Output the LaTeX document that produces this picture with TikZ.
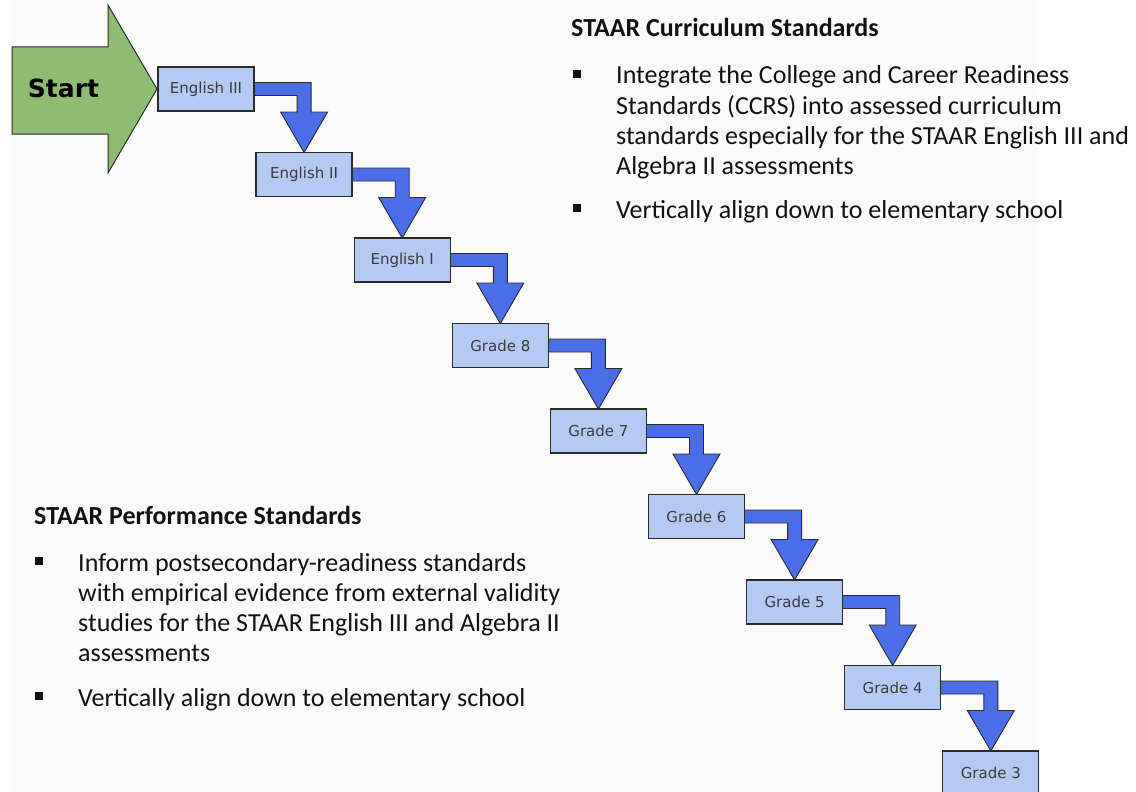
\documentclass[tikz,border=0pt]{standalone}
\usepackage{fontspec}
\setmainfont{Carlito}
\newfontfamily\boxfont{DejaVu Sans}
\usetikzlibrary{calc}
\definecolor{bgpanel}{HTML}{FAFAFA}
\definecolor{boxfill}{HTML}{B4CAF3}
\definecolor{arrowblue}{HTML}{4A6EE8}
\definecolor{startgreen}{HTML}{8EBC73}
\definecolor{edgecol}{HTML}{2B2B2B}
\definecolor{labeltext}{HTML}{3A3A3A}
\definecolor{bodycol}{HTML}{111111}
\pgfdeclarelayer{back}
\pgfsetlayers{back,main}
\begin{document}
\begin{tikzpicture}[x=1pt,y=-1pt,
  gradebox/.style={draw=edgecol, line width=1.3pt, fill=boxfill, minimum width=96pt, minimum height=44pt,
    inner sep=0pt, outer sep=0pt, font=\boxfont\fontsize{15}{18}\selectfont, text=labeltext},
  conn/.style={draw=edgecol, line width=0.9pt, fill=arrowblue, line join=miter},
  startarrow/.style={draw=edgecol, line width=1pt, fill=startgreen, line join=miter},
  bodytext/.style={anchor=base west, inner sep=0pt, text=bodycol, font=\fontsize{26}{30}\selectfont},
  headtext/.style={anchor=base west, inner sep=0pt, text=bodycol, font=\bfseries\fontsize{26}{30}\selectfont},
  bulletsq/.style={fill=bodycol, minimum size=8pt, inner sep=0pt}]
\useasboundingbox (0,0) rectangle (1136,792);
\begin{pgfonlayer}{back}
\fill[bgpanel] (11,0) rectangle (1038,792);
\end{pgfonlayer}

% Start arrow
\draw[startarrow] (12,47) -- (108,47) -- (108,5) -- (157,89) -- (108,173) -- (108,134) -- (12,134) -- cycle;
\node[inner sep=0pt, font=\boxfont\bfseries\fontsize{25}{30}\selectfont, text=black] (start) at (63.5,88) {Start};

% Grade boxes
\foreach \i/\t in {0/English III,1/English II,2/English I,3/Grade 8,4/Grade 7,5/Grade 6,6/Grade 5,7/Grade 4,8/Grade 3}
  \node[gradebox] (b\i) at ({206+98.1*\i},{89+85.5*\i}) {\t};

% Connectors
\begin{pgfonlayer}{back}
\foreach \i [evaluate=\i as \j using int(\i+1)] in {0,...,7}{
  \draw[conn] ($(b\i.east)+(0,-6.5)$)
    -- ($(b\j.north |- b\i.east)+(7,-6.5)$)
    -- ($(b\j.north |- b\i.south)+(7,1)$)
    -- ($(b\j.north |- b\i.south)+(23.5,1)$)
    -- (b\j.north)
    -- ($(b\j.north |- b\i.south)+(-23.5,1)$)
    -- ($(b\j.north |- b\i.south)+(-7,1)$)
    -- ($(b\j.north |- b\i.east)+(-7,6.5)$)
    -- ($(b\i.east)+(0,6.5)$) -- cycle;
}
\end{pgfonlayer}

% Curriculum standards (top right)
\node[headtext] (h1) at (571,37) {STAAR Curriculum Standards};
\node[bulletsq] (bu1) at (577,74) {};
\node[bodytext] (r1) at (616,84) {Integrate the College and Career Readiness};
\node[bodytext] (r2) at (616,114) {Standards (CCRS) into assessed curriculum};
\node[bodytext] (r3) at (616,144) {standards especially for the STAAR English III and};
\node[bodytext] (r4) at (616,174) {Algebra II assessments};
\node[bulletsq] (bu2) at (577,208) {};
\node[bodytext] (r5) at (616,218) {Vertically align down to elementary school};

% Performance standards (bottom left)
\node[headtext] (h2) at (34,524) {STAAR Performance Standards};
\node[bulletsq] (bu3) at (39,561) {};
\node[bodytext] (l1) at (78,571) {Inform postsecondary-readiness standards};
\node[bodytext] (l2) at (78,601) {with empirical evidence from external validity};
\node[bodytext] (l3) at (78,631) {studies for the STAAR English III and Algebra II};
\node[bodytext] (l4) at (78,661) {assessments};
\node[bulletsq] (bu4) at (39,696) {};
\node[bodytext] (l5) at (78,706) {Vertically align down to elementary school};
\end{tikzpicture}
\end{document}
